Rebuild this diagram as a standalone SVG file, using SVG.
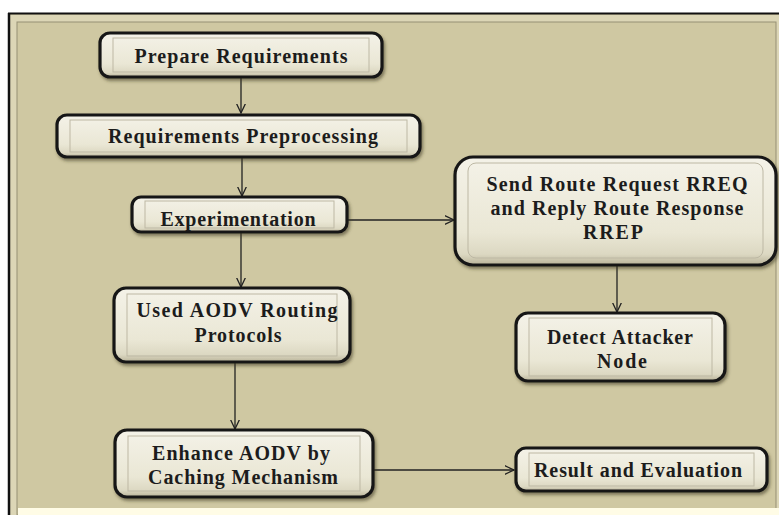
<svg xmlns="http://www.w3.org/2000/svg" width="779" height="515" viewBox="0 0 779 515">
<defs>
<linearGradient id="boxg" x1="0" y1="0" x2="0" y2="1">
<stop offset="0" stop-color="#F4F2E8"/>
<stop offset="0.7" stop-color="#EAE7D5"/>
<stop offset="0.9" stop-color="#DCD8C2"/>
<stop offset="1" stop-color="#B9B399"/>
</linearGradient>
<filter id="sh" x="-10%" y="-10%" width="120%" height="130%">
<feDropShadow dx="1.5" dy="2.5" stdDeviation="1.5" flood-color="#3a3520" flood-opacity="0.55"/>
</filter>
<marker id="arr" viewBox="0 0 10 10" refX="9.5" refY="5" markerWidth="10" markerHeight="10" markerUnits="userSpaceOnUse" orient="auto">
<path d="M0,0.5 L9.5,5 L0,9.5" fill="none" stroke="#222" stroke-width="1.3"/>
</marker>
</defs>
<style>
.box{fill:url(#boxg);stroke:#161616;stroke-width:3.2;filter:url(#sh)}
.inner{fill:none;stroke:#bdb8a4;stroke-width:1}
.t{font-family:"Liberation Serif","Times New Roman",serif;font-weight:bold;font-size:20px;fill:#1c1c1c;text-anchor:middle}
.c{fill:none;stroke:#222;stroke-width:1.3;marker-end:url(#arr)}
</style>
<rect x="0" y="0" width="779" height="515" fill="#ffffff"/>
<g id="frame">
<rect x="8" y="13" width="771" height="502" fill="#D0C9A3"/>
<rect x="10" y="15" width="769" height="500" fill="#DCD6B6"/>
<rect x="17" y="22" width="759" height="493" fill="#CFC8A2" stroke="#958F74" stroke-width="1"/>
<line x1="8" y1="13.5" x2="779" y2="13.5" stroke="#111" stroke-width="2"/>
<line x1="9" y1="13" x2="9" y2="515" stroke="#111" stroke-width="2.5"/>
<rect x="18" y="508" width="761" height="7" fill="#FFFCE6"/>
</g>
<g id="connectors">
<line class="c" x1="241" y1="78" x2="241" y2="113"/>
<line class="c" x1="242" y1="158" x2="242" y2="196"/>
<line class="c" x1="348" y1="220" x2="454" y2="220"/>
<line class="c" x1="241" y1="233" x2="241" y2="287"/>
<line class="c" x1="617" y1="266" x2="617" y2="312"/>
<line class="c" x1="235" y1="363" x2="235" y2="429"/>
<line class="c" x1="373" y1="470" x2="514" y2="470"/>
</g>
<g id="n1">
<rect class="box" x="100" y="33" width="282" height="44" rx="10"/>
<rect class="inner" x="113" y="38" width="256" height="34"/>
<text class="t" x="241" y="63" textLength="213" lengthAdjust="spacing">Prepare Requirements</text>
</g>
<g id="n2">
<rect class="box" x="57" y="115" width="363" height="42" rx="10"/>
<rect class="inner" x="70" y="120" width="337" height="32"/>
<text class="t" x="243" y="143" textLength="270" lengthAdjust="spacing">Requirements Preprocessing</text>
</g>
<g id="n3">
<rect class="box" x="132" y="197" width="215" height="35" rx="9"/>
<rect class="inner" x="145" y="201" width="189" height="27"/>
<text class="t" x="238" y="226" textLength="155" lengthAdjust="spacing">Experimentation</text>
</g>
<g id="n4">
<rect class="box" x="455" y="157" width="321" height="108" rx="18"/>
<rect class="inner" x="468" y="163" width="295" height="95" rx="8"/>
<text class="t" x="617" y="191" textLength="261" lengthAdjust="spacing">Send Route Request RREQ</text>
<text class="t" x="617" y="215" textLength="253" lengthAdjust="spacing">and Reply Route Response</text>
<text class="t" x="613" y="239" textLength="60" lengthAdjust="spacing">RREP</text>
</g>
<g id="n5">
<rect class="box" x="114" y="288" width="236" height="74" rx="12"/>
<rect class="inner" x="127" y="294" width="210" height="62"/>
<text class="t" x="237" y="317" textLength="201" lengthAdjust="spacing">Used AODV Routing</text>
<text class="t" x="238" y="342" textLength="87" lengthAdjust="spacing">Protocols</text>
</g>
<g id="n6">
<rect class="box" x="516" y="313" width="209" height="68" rx="12"/>
<rect class="inner" x="529" y="318" width="183" height="58"/>
<text class="t" x="620" y="344" textLength="146" lengthAdjust="spacing">Detect Attacker</text>
<text class="t" x="622" y="368" textLength="50" lengthAdjust="spacing">Node</text>
</g>
<g id="n7">
<rect class="box" x="115" y="430" width="258" height="67" rx="12"/>
<rect class="inner" x="128" y="436" width="232" height="55"/>
<text class="t" x="241" y="460" textLength="178" lengthAdjust="spacing">Enhance AODV by</text>
<text class="t" x="243" y="484" textLength="190" lengthAdjust="spacing">Caching Mechanism</text>
</g>
<g id="n8">
<rect class="box" x="516" y="448" width="251" height="43" rx="10"/>
<rect class="inner" x="529" y="453" width="225" height="33"/>
<text class="t" x="638" y="477" textLength="208" lengthAdjust="spacing">Result and Evaluation</text>
</g>
</svg>
